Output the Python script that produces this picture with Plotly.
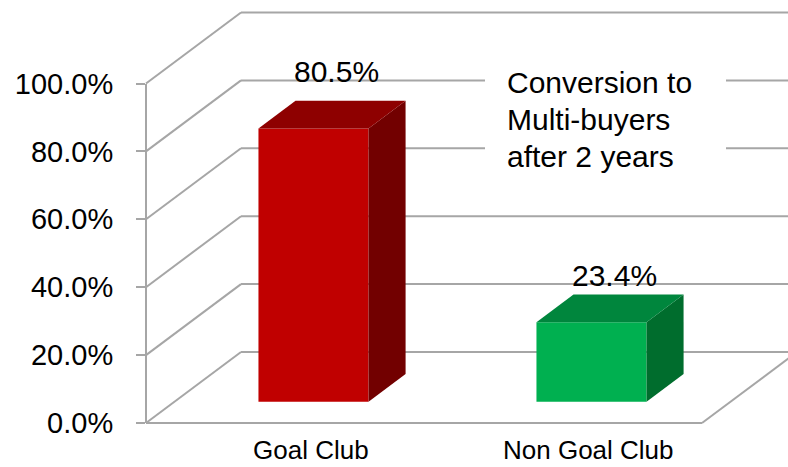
import plotly.graph_objects as go

# ---------------- data ----------------
CATEGORIES = ["Goal Club", "Non Goal Club"]
VALUES = [80.5, 23.4]                      # percent
VALUE_LABELS = ["80.5%", "23.4%"]
TICK_VALUES = [0, 20, 40, 60, 80, 100]
TICK_LABELS = ["0.0%", "20.0%", "40.0%", "60.0%", "80.0%", "100.0%"]
TITLE_LINES = ["Conversion to", "Multi-buyers", "after 2 years"]

# ---------------- styles ----------------
FRONT_COLORS = ["#C00000", "#00B050"]
TOP_COLORS = ["#8E0000", "#00863D"]
SIDE_COLORS = ["#720000", "#006D2D"]
GRID = "#a6a6a6"
FONT = "Liberation Sans, Arial, sans-serif"

# ---------------- geometry (pixel calibration) ----------------
W, H = 788, 467
X0_PX = 146          # front-left corner of the floor (pixels)
CAT_PX = 278         # pixels per category on the front plane
Y0_PX = 423          # 0% on the front plane (pixels)
PCT_PX = 3.395       # pixels per percent
DDX = 95 / CAT_PX    # full depth offset in x units
DDY = 71 / PCT_PX    # full depth offset in percent units
BAR_F0, BAR_F1 = 0.30, 0.69   # bar depth (fraction of wall depth)
BAR_W = 0.396
LABEL_DX = 0.083
LABEL_SHIFTS = [57, 47]
CAT_SHIFT = -27
TITLE_X_PX = 506
TITLE_LINE_Y_PX = [82.5, 119.5, 156.5]
TITLE_BOX_PX = (485, 42, 726, 190)  # x0, y0, x1, y1

n = len(CATEGORIES)
x_front0, x_front1 = -0.5, n - 0.5
x_range = [-0.5 - X0_PX / CAT_PX, -0.5 + (W - X0_PX) / CAT_PX]
y2_range = [-(H - Y0_PX) / PCT_PX, Y0_PX / PCT_PX]
y_dom = [(H - Y0_PX) / H, (H - (Y0_PX - 100 * PCT_PX)) / H]

fig = go.Figure()

# ---------------- perspective walls / gridlines (shapes below traces) ----------------
shapes = []
line_style = dict(color=GRID, width=2)
x_far = x_front1 + DDX + 0.2
for v in TICK_VALUES:
    shapes.append(dict(type="line", xref="x", yref="y2", layer="below",
                       x0=x_front0, y0=v, x1=x_front0 + DDX, y1=v + DDY, line=line_style))
    shapes.append(dict(type="line", xref="x", yref="y2", layer="below",
                       x0=x_front0 + DDX, y0=v + DDY, x1=x_far, y1=v + DDY, line=line_style))
# floor front edge and right edge
floor_v = TICK_VALUES[0]
shapes.append(dict(type="line", xref="x", yref="y2", layer="below",
                   x0=x_front0, y0=floor_v, x1=x_front1, y1=floor_v, line=line_style))
shapes.append(dict(type="line", xref="x", yref="y2", layer="below",
                   x0=x_front1, y0=floor_v, x1=x_front1 + DDX, y1=floor_v + DDY, line=line_style))

# ---------------- bars ----------------
base = BAR_F0 * DDY
centers = [i + BAR_F0 * DDX for i in range(n)]
hw = BAR_W / 2
ddx = (BAR_F1 - BAR_F0) * DDX
ddy = (BAR_F1 - BAR_F0) * DDY

fig.add_trace(go.Bar(
    x=centers, y=VALUES, base=[base] * n, width=[BAR_W] * n,
    marker=dict(color=FRONT_COLORS, line=dict(width=0)),
    xaxis="x", yaxis="y2", showlegend=False, hoverinfo="skip",
))

for i, v in enumerate(VALUES):
    cx = centers[i]
    top = base + v
    # side face
    fig.add_trace(go.Scatter(
        x=[cx + hw, cx + hw + ddx, cx + hw + ddx, cx + hw, cx + hw],
        y=[base, base + ddy, top + ddy, top, base],
        fill="toself", fillcolor=SIDE_COLORS[i], mode="lines",
        line=dict(width=0, color=SIDE_COLORS[i]),
        xaxis="x", yaxis="y2", showlegend=False, hoverinfo="skip",
    ))
    # top face
    fig.add_trace(go.Scatter(
        x=[cx - hw, cx + hw, cx + hw + ddx, cx - hw + ddx, cx - hw],
        y=[top, top, top + ddy, top + ddy, top],
        fill="toself", fillcolor=TOP_COLORS[i], mode="lines",
        line=dict(width=0, color=TOP_COLORS[i]),
        xaxis="x", yaxis="y2", showlegend=False, hoverinfo="skip",
    ))

# dummy trace so the visible value axis subplot is rendered
fig.add_trace(go.Scatter(x=[None], y=[None], xaxis="x", yaxis="y",
                         showlegend=False, hoverinfo="skip"))

# ---------------- text ----------------
annotations = []
for i, v in enumerate(VALUES):
    annotations.append(dict(
        x=centers[i] + LABEL_DX, y=base + v, xref="x", yref="y2",
        text=VALUE_LABELS[i], showarrow=False, yanchor="middle",
        yshift=LABEL_SHIFTS[i], font=dict(family=FONT, size=30, color="#000000"),
    ))
    annotations.append(dict(
        x=centers[i] - 0.01, y=floor_v, xref="x", yref="y2",
        text=CATEGORIES[i], showarrow=False, yanchor="middle",
        yshift=CAT_SHIFT, font=dict(family=FONT, size=26, color="#000000"),
    ))

# white box behind the title (hides the gridlines)
bx0, by0, bx1, by1 = TITLE_BOX_PX
annotations.append(dict(
    x=(bx0 + bx1) / 2 / W, y=1 - (by0 + by1) / 2 / H, xref="paper", yref="paper",
    xanchor="center", yanchor="middle", text=" ", showarrow=False,
    width=bx1 - bx0, height=by1 - by0, bgcolor="#ffffff", borderpad=0,
    borderwidth=0,
))
for line, ypx in zip(TITLE_LINES, TITLE_LINE_Y_PX):
    annotations.append(dict(
        x=TITLE_X_PX / W, y=1 - ypx / H, xref="paper", yref="paper",
        xanchor="left", yanchor="middle", align="left",
        text=line, showarrow=False, borderpad=0,
        font=dict(family=FONT, size=30, color="#000000"),
    ))

fig.update_layout(
    width=W, height=H,
    margin=dict(l=0, r=0, t=0, b=0, pad=0, autoexpand=False),
    paper_bgcolor="#ffffff", plot_bgcolor="rgba(0,0,0,0)",
    showlegend=False,
    shapes=shapes, annotations=annotations,
    xaxis=dict(domain=[0, 1], range=x_range, visible=False, anchor="y2",
               fixedrange=True, automargin=False),
    yaxis2=dict(domain=[0, 1], range=y2_range, visible=False, anchor="x",
                fixedrange=True, automargin=False),
    yaxis=dict(domain=y_dom, range=[0, 100], anchor="free",
               position=X0_PX / W, tickmode="array",
               tickvals=TICK_VALUES, ticktext=TICK_LABELS,
               ticks="outside", ticklen=9, tickwidth=2, tickcolor=GRID,
               showline=True, linecolor=GRID, linewidth=2,
               showgrid=False, zeroline=False, ticklabelstandoff=17,
               tickfont=dict(family=FONT, size=29, color="#000000"),
               fixedrange=True, automargin=False),
)

fig.write_html("out.html")
